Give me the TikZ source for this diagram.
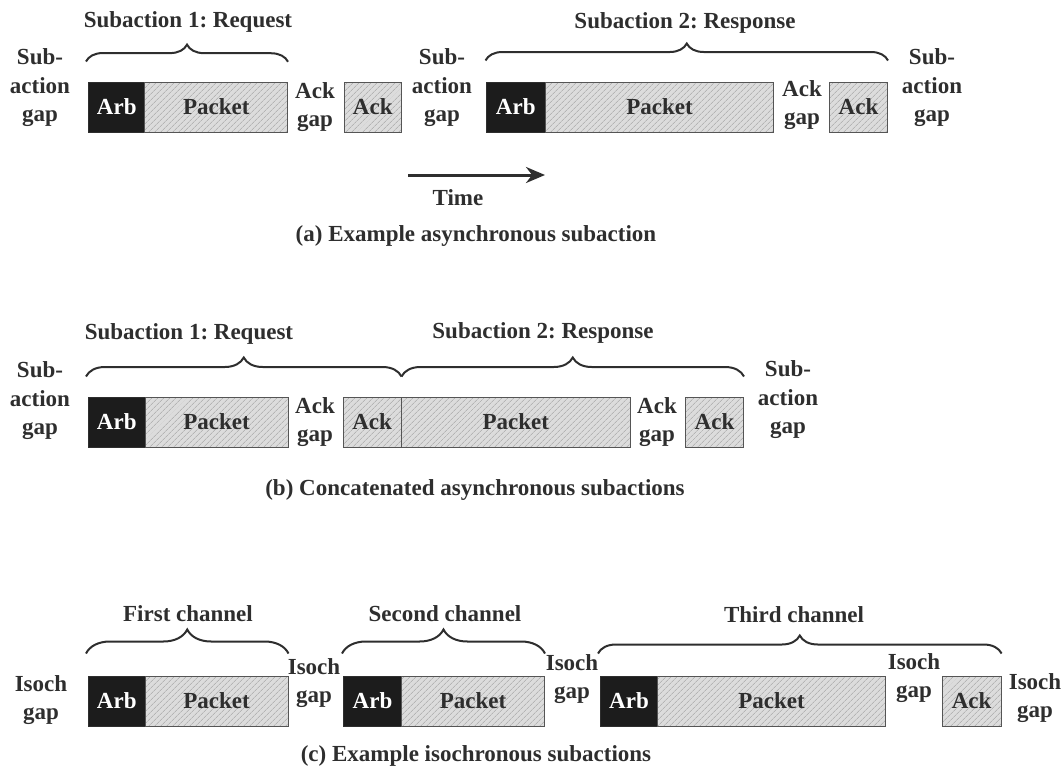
\documentclass[tikz,border=0pt]{standalone}
\usepackage{fontspec}
\setmainfont{Liberation Serif}
\usetikzlibrary{patterns.meta,decorations.pathreplacing,arrows.meta}
\definecolor{ink}{HTML}{2E2E2E}
\definecolor{arbfill}{HTML}{1C1C1C}
\definecolor{pkfill}{HTML}{DCDCDC}
\definecolor{hatch}{HTML}{A0A0A0}
\definecolor{edge}{HTML}{555555}
\frenchspacing
\begin{document}
\begin{tikzpicture}[x=1pt,y=-1pt,
  every node/.style={font=\fontsize{23}{28.5}\selectfont\bfseries\frenchspacing, text=ink},
  lbl/.style={align=center, inner sep=0pt},
  arbbox/.style={draw=ink, line width=1pt, fill=arbfill, text=white, minimum height=50pt, inner sep=0pt, anchor=west, minimum width=#1},
  pkbox/.style={draw=edge, line width=1pt, preaction={fill=pkfill}, pattern={Lines[angle=45,distance=4pt,line width=0.5pt]}, pattern color=hatch, minimum height=50pt, inner sep=0pt, anchor=west, minimum width=#1},
  brc/.style={decorate, decoration={brace, amplitude=#1}, line width=2pt, draw=ink},
]
\useasboundingbox (0,0) rectangle (1064,774);

% ---------------- (a) ----------------
\node[arbbox=56.6pt] (aArb1) at (88,107) {Arb};
\node[pkbox=142.9pt] (aPk1) at (144.6,107) {Packet};
\node[pkbox=56.5pt] (aAck1) at (344,107) {Ack};
\node[arbbox=59.5pt] (aArb2) at (485.5,107) {Arb};
\node[pkbox=228pt] (aPk2) at (545,107) {Packet};
\node[pkbox=58pt] (aAck2) at (829,107) {Ack};

\node[lbl] (aGapL) at (40,88) {Sub-\\action\\gap};
\node[lbl] (aAckGap1) at (315,107) {Ack\\gap};
\node[lbl] (aGapM) at (442,88) {Sub-\\action\\gap};
\node[lbl] (aAckGap2) at (802,105) {Ack\\gap};
\node[lbl] (aGapR) at (932,88) {Sub-\\action\\gap};

\draw[brc=17pt] ([xshift=-2pt,yshift=20pt]aArb1.north west) -- ([yshift=20pt]aPk1.north east);
\draw[brc=17pt] ([yshift=21pt]aArb2.north west) -- ([yshift=21pt]aAck2.north east);
\node[lbl] (aT1) at (188,22) {Subaction 1: Request};
\node[lbl] (aT2) at (685,23) {Subaction 2: Response};

\coordinate (tS) at (408,175);
\coordinate (tE) at (545,175);
\draw[line width=3pt, draw=ink, -{Stealth[length=19pt,width=16pt]}] (tS) -- (tE);
\node[lbl] (time) at (458,198) {Time};
\node[lbl] (capA) at (476,236) {(a) Example asynchronous subaction};

% ---------------- (b) ----------------
\node[arbbox=56.6pt] (bArb1) at (88,422) {Arb};
\node[pkbox=142.9pt] (bPk1) at (144.6,422) {Packet};
\node[pkbox=57.9pt] (bAck1) at (342.6,422) {Ack};
\node[pkbox=229.5pt] (bPk2) at (400.5,422) {Packet};
\node[pkbox=58pt] (bAck2) at (685,422) {Ack};

\node[lbl] (bGapL) at (40,401) {Sub-\\action\\gap};
\node[lbl] (bAckGap1) at (315,422) {Ack\\gap};
\node[lbl] (bAckGap2) at (657,422) {Ack\\gap};
\node[lbl] (bGapR) at (788,400) {Sub-\\action\\gap};

\draw[brc=19pt] ([xshift=-2pt,yshift=20pt]bArb1.north west) -- ([yshift=20pt]bAck1.north east);
\draw[brc=19pt] ([yshift=20pt]bAck1.north east) -- ([yshift=20pt]bAck2.north east);
\node[lbl] (bT1) at (189,334) {Subaction 1: Request};
\node[lbl] (bT2) at (543,333) {Subaction 2: Response};
\node[lbl] (capB) at (475,490) {(b) Concatenated asynchronous subactions};

% ---------------- (c) ----------------
\node[arbbox=56.6pt] (cArb1) at (88,701) {Arb};
\node[pkbox=142.9pt] (cPk1) at (144.6,701) {Packet};
\node[arbbox=58pt] (cArb2) at (343,701) {Arb};
\node[pkbox=143pt] (cPk2) at (401,701) {Packet};
\node[arbbox=57pt] (cArb3) at (600,701) {Arb};
\node[pkbox=228pt] (cPk3) at (657,701) {Packet};
\node[pkbox=59pt] (cAck) at (941.6,701) {Ack};

\node[lbl] (cGapL) at (41,700) {Isoch\\gap};
\node[lbl] (cGap1) at (314,683) {Isoch\\gap};
\node[lbl] (cGap2) at (572,679) {Isoch\\gap};
\node[lbl] (cGap3) at (914,678) {Isoch\\gap};
\node[lbl] (cGapR) at (1035,698) {Isoch\\gap};

\draw[brc=24pt] ([xshift=-2pt,yshift=22pt]cArb1.north west) -- ([yshift=22pt]cPk1.north east);
\draw[brc=24pt] ([xshift=-1pt,yshift=22pt]cArb2.north west) -- ([yshift=22pt]cPk2.north east);
\draw[brc=18pt] ([xshift=-2pt,yshift=22pt]cArb3.north west) -- ([yshift=22pt]cAck.north east);
\node[lbl] (cT1) at (188,614) {First channel};
\node[lbl] (cT2) at (445,614) {Second channel};
\node[lbl] (cT3) at (794,615) {Third channel};
\node[lbl] (capC) at (476,756) {(c) Example isochronous subactions};
\end{tikzpicture}
\end{document}
